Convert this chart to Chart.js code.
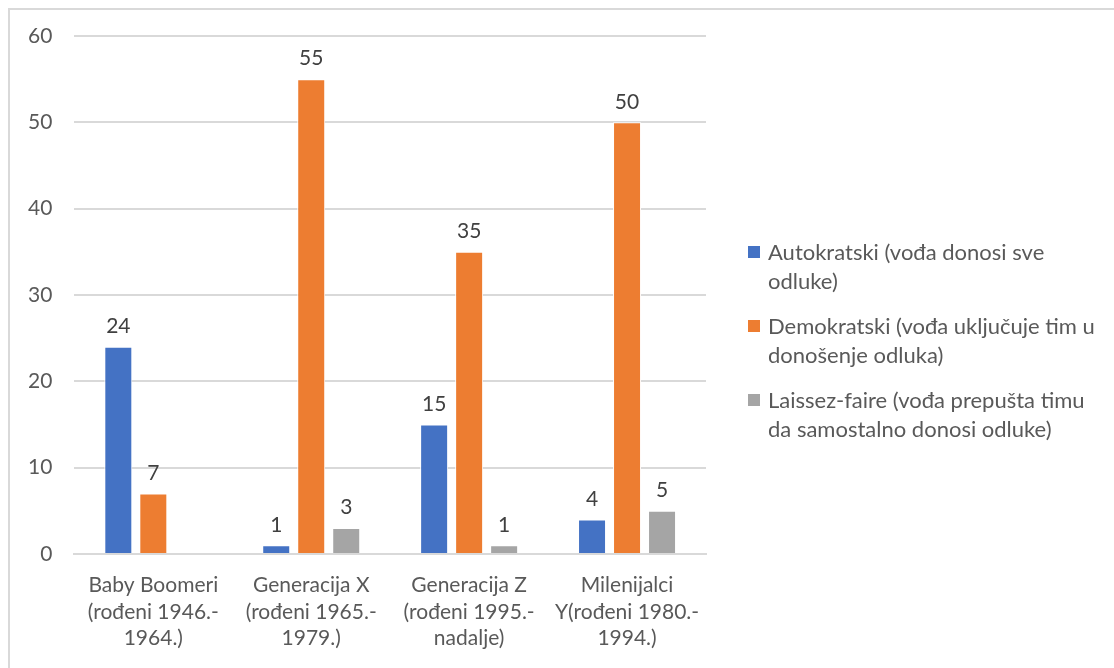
<!DOCTYPE html>
<html>
<head>
<meta charset="utf-8">
<script src="https://cdn.jsdelivr.net/npm/chart.js@4/dist/chart.umd.min.js"></script>
<style>
  html, body { margin: 0; padding: 0; background: #fff; overflow: hidden; }
  #frame { position: absolute; left: 8px; top: 8px; width: 1200px; height: 800px;
           border-left: 2px solid #d9d9d9; border-top: 2px solid #d9d9d9; }
  #wrap { position: absolute; left: 0; top: 0; width: 1114px; height: 668px; }
  #legend { position: absolute; left: 748px; top: 237px; font-family: Lato, "Open Sans", sans-serif;
            font-size: 22px; color: #595959; line-height: 29px; }
  .item { position: relative; padding-left: 20px; margin-bottom: 16px; width: 350px; }
  .sw { position: absolute; left: 0; top: 9px; width: 12px; height: 12px; }
</style>
</head>
<body>
<div id="frame"></div>
<div id="wrap"><canvas id="chart" width="1114" height="668"></canvas></div>
<div id="legend"></div>
<script>
// Data
const categories = [
  ["Baby Boomeri", "(rođeni 1946.-", "1964.)"],
  ["Generacija X", "(rođeni 1965.-", "1979.)"],
  ["Generacija Z", "(rođeni 1995.-", "nadalje)"],
  ["Milenijalci", "Y(rođeni 1980.-", "1994.)"]
];
const seriesNames = [
  ["Autokratski (vođa donosi sve", "odluke)"],
  ["Demokratski (vođa uključuje tim u", "donošenje odluka)"],
  ["Laissez-faire (vođa prepušta timu", "da samostalno donosi odluke)"]
];
const autokratski = [24, 1, 15, 4];
const demokratski = [7, 55, 35, 50];
const laissezFaire = [null, 3, 1, 5];
const colors = ["#4472c4", "#ed7d31", "#a5a5a5"];

const FONT = 'Lato, "Open Sans", sans-serif';

// value labels above bars
const valueLabels = {
  id: "valueLabels",
  afterDatasetsDraw(chart) {
    const ctx = chart.ctx;
    ctx.save();
    ctx.font = "21px " + FONT;
    ctx.fillStyle = "#404040";
    ctx.textAlign = "center";
    ctx.textBaseline = "bottom";
    chart.data.datasets.forEach((ds, i) => {
      chart.getDatasetMeta(i).data.forEach((bar, j) => {
        const v = ds.data[j];
        if (v == null) return;
        ctx.fillText(String(v), bar.x, bar.y - 10);
      });
    });
    ctx.restore();
  }
};

const seriesData = [autokratski, demokratski, laissezFaire];

new Chart(document.getElementById("chart"), {
  type: "bar",
  data: {
    labels: categories,
    datasets: seriesData.map((d, i) => ({
      label: seriesNames[i].join(" "),
      data: d,
      backgroundColor: colors[i],
      borderColor: "#ffffff",
      borderWidth: 1,
      barPercentage: 0.8,
      categoryPercentage: 0.665
    }))
  },
  options: {
    responsive: false,
    animation: false,
    layout: { padding: { left: 6, right: 408, top: 36, bottom: 6 } },
    plugins: { legend: { display: false }, tooltip: { enabled: false } },
    scales: {
      x: {
        grid: { display: false },
        border: { color: "#d9d9d9", width: 2 },
        ticks: { color: "#595959", font: { family: FONT, size: 21, lineHeight: 1.27 }, maxRotation: 0, autoSkip: false, padding: 10 }
      },
      y: {
        min: 0, max: 60,
        ticks: { stepSize: 10, color: "#595959", font: { family: FONT, size: 21 }, padding: 22 },
        grid: { color: "#d9d9d9", lineWidth: 2, drawTicks: false },
        border: { display: false }
      }
    }
  },
  plugins: [valueLabels]
});

// HTML legend (wrapped labels)
const legend = document.getElementById("legend");
seriesNames.forEach((lines, i) => {
  const item = document.createElement("div");
  item.className = "item";
  item.innerHTML = '<span class="sw" style="background:' + colors[i] + '"></span>' + lines.join("<br>");
  legend.appendChild(item);
});
</script>
</body>
</html>
